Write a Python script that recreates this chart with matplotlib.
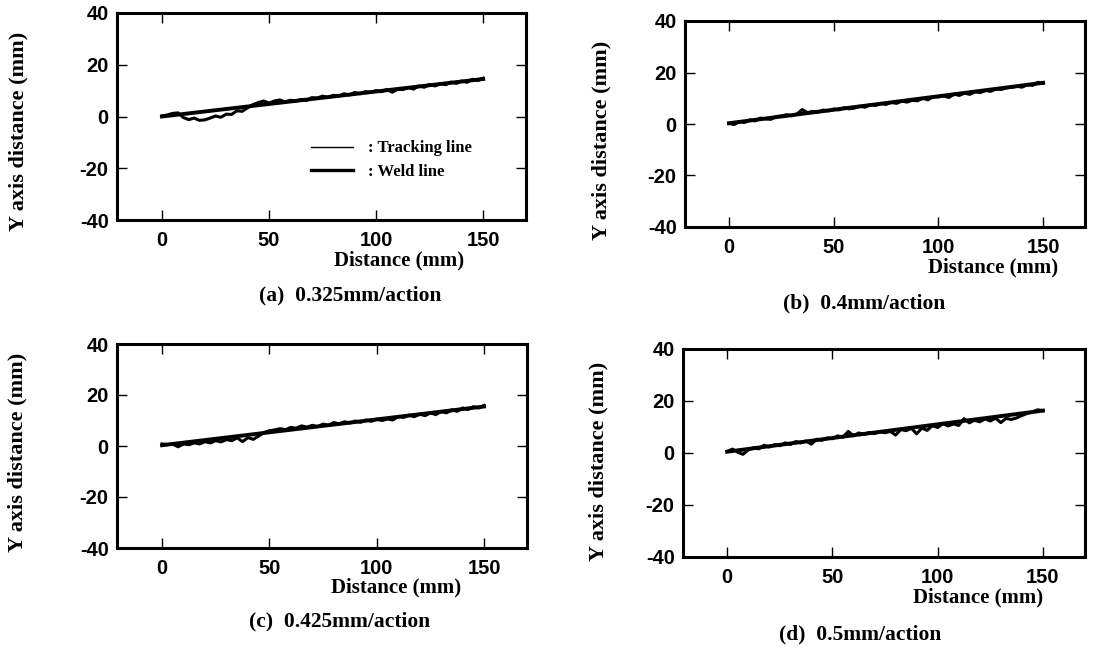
import matplotlib
matplotlib.use("Agg")
import matplotlib.pyplot as plt

plt.rcParams["axes.unicode_minus"] = False

# distance along the seam (mm), sampled every 2.5 mm
dist = [0, 2.5, 5, 7.5, 10, 12.5, 15, 17.5, 20, 22.5, 25, 27.5, 30, 32.5, 35,
        37.5, 40, 42.5, 45, 47.5, 50, 52.5, 55, 57.5, 60, 62.5, 65, 67.5, 70,
        72.5, 75, 77.5, 80, 82.5, 85, 87.5, 90, 92.5, 95, 97.5, 100, 102.5,
        105, 107.5, 110, 112.5, 115, 117.5, 120, 122.5, 125, 127.5, 130,
        132.5, 135, 137.5, 140, 142.5, 145, 147.5, 150]

track_a = [0.2, 0.6, 1.2, 1.4, -0.4, -1.2, -0.6, -1.5, -1.3, -0.6, 0.2, -0.3,
           0.9, 0.8, 2.2, 2.0, 3.4, 4.6, 5.4, 6.0, 5.2, 6.0, 6.4, 5.6, 6.3,
           5.9, 6.6, 6.2, 7.3, 7.1, 7.9, 7.3, 8.2, 7.8, 8.8, 8.3, 9.3, 8.8,
           9.6, 9.3, 10.0, 9.6, 10.4, 9.4, 10.5, 10.4, 11.2, 10.6, 11.8, 11.3,
           12.4, 11.8, 12.8, 12.3, 13.3, 12.8, 13.7, 13.2, 14.4, 13.9, 14.8]

track_b = [0.2, -0.2, 0.9, 0.6, 1.6, 1.2, 2.3, 2.0, 1.8, 2.9, 3.1, 3.6, 3.2,
           3.9, 5.6, 4.4, 4.9, 4.6, 5.4, 5.1, 5.8, 5.5, 6.3, 5.9, 6.2, 6.9,
           6.5, 7.5, 7.2, 7.9, 7.6, 8.4, 8.0, 8.9, 8.5, 9.2, 9.0, 10.0, 9.4,
           10.6, 10.5, 10.9, 10.3, 11.6, 11.1, 12.0, 11.5, 12.5, 12.2, 13.0,
           12.7, 13.6, 13.4, 14.0, 14.3, 14.6, 14.3, 15.3, 15.0, 16.2, 15.8]

track_c = [0.8, 0.6, 0.7, -0.3, 0.8, 0.5, 1.2, 0.8, 1.7, 1.2, 2.1, 1.6, 2.5,
           2.1, 3.2, 1.7, 3.3, 2.6, 3.9, 5.3, 6.0, 6.3, 6.8, 6.4, 7.3, 7.0,
           7.9, 7.4, 8.1, 7.6, 8.6, 8.1, 9.2, 8.6, 9.5, 9.0, 9.8, 9.3, 10.2,
           9.7, 10.5, 10.0, 10.6, 10.2, 11.6, 11.2, 12.1, 11.5, 12.5, 11.9,
           13.0, 12.3, 13.5, 13.0, 14.2, 13.6, 14.9, 14.3, 15.4, 14.9, 15.9]

track_d = [0.6, 1.5, 0.3, -0.5, 1.2, 2.0, 1.6, 3.0, 2.3, 3.2, 2.8, 3.9, 3.3,
           4.4, 3.9, 4.6, 3.4, 5.3, 4.9, 5.8, 5.5, 6.6, 6.1, 8.3, 6.6, 7.7,
           7.1, 7.9, 7.5, 8.1, 7.8, 8.3, 6.9, 9.0, 8.6, 9.5, 7.4, 9.6, 8.7,
           10.5, 9.8, 11.3, 10.4, 11.2, 10.6, 13.2, 11.6, 12.6, 12.0, 13.1,
           12.3, 13.4, 11.7, 13.3, 12.9, 13.5, 14.4, 15.2, 15.7, 16.6, 16.3]

# weld line end points
weld_x = [0, 150]
weld_a = [0.0, 14.5]
weld_b = [0.3, 16.0]
weld_c = [0.3, 15.5]
weld_d = [0.5, 16.3]

captions = ["(a)  0.325mm/action", "(b)  0.4mm/action",
            "(c)  0.425mm/action", "(d)  0.5mm/action"]

x_ticks = [0, 50, 100, 150]
y_ticks = [-40, -20, 0, 20, 40]

SERIF = "Liberation Serif"
SANS = "Liberation Sans"

W, H = 1096, 649
fig = plt.figure(figsize=(W / 100, H / 100), dpi=100)


def px_rect(left, top, right, bottom):
    return [left / W, 1 - bottom / H, (right - left) / W, (bottom - top) / H]


panels = [
    dict(rect=px_rect(117, 13, 526, 220), track=track_a, weld=weld_a,
         xlab=0.69, ylab=(-0.242, 0.43), cap=(350, 295)),
    dict(rect=px_rect(685, 21, 1085, 227), track=track_b, weld=weld_b,
         xlab=0.77, ylab=(-0.21, 0.42), cap=(864, 303)),
    dict(rect=px_rect(117, 344, 527, 548), track=track_c, weld=weld_c,
         xlab=0.68, ylab=(-0.242, 0.47), cap=(340, 621)),
    dict(rect=px_rect(683, 349, 1085, 557), track=track_d, weld=weld_d,
         xlab=0.735, ylab=(-0.21, 0.46), cap=(860, 634)),
]

for i, p in enumerate(panels):
    ax = fig.add_axes(p["rect"])

    ax.plot(dist, p["track"], color="black", lw=2.2,
            label=": Tracking line")
    ax.plot(weld_x, p["weld"], color="black", lw=2.8,
            label=": Weld line")

    ax.set_xlim(-21, 170)
    ax.set_ylim(-40, 40)
    ax.set_xticks(x_ticks)
    ax.set_yticks(y_ticks)

    for s in ax.spines.values():
        s.set_linewidth(2.2)

    ax.tick_params(direction="in", top=True, right=True, length=7,
                   width=1.0, labelsize=14.5)
    ax.tick_params(axis="x", pad=8)
    ax.tick_params(axis="y", pad=6)
    for lab in ax.get_xticklabels() + ax.get_yticklabels():
        lab.set_fontfamily(SANS)
        lab.set_fontweight("bold")

    ax.set_xlabel("Distance (mm)", fontfamily=SERIF, fontweight="bold",
                  fontsize=15)
    ax.xaxis.set_label_coords(p["xlab"], -0.195)
    ax.xaxis.label.set_verticalalignment("center")

    ax.set_ylabel("Y axis distance (mm)", fontfamily=SERIF,
                  fontweight="bold", fontsize=16)
    ax.yaxis.set_label_coords(*p["ylab"])
    ax.yaxis.label.set_verticalalignment("center")

    if i == 0:
        # legend lines: thin tracking line, thick weld line
        leg = ax.legend(loc="upper left", bbox_to_anchor=(0.455, 0.425),
                        frameon=False, handlelength=2.5, handletextpad=0.9,
                        labelspacing=0.45, borderpad=0,
                        prop={"family": SERIF, "weight": "bold", "size": 12})
        leg.get_lines()[0].set_linewidth(1.0)
        leg.get_lines()[1].set_linewidth(2.4)

    cx, cy = p["cap"]
    fig.text(cx / W, 1 - cy / H, captions[i], ha="center", va="center",
             fontfamily=SERIF, fontweight="bold", fontsize=15.5)

plt.savefig("out.png", dpi=100)
plt.close()
